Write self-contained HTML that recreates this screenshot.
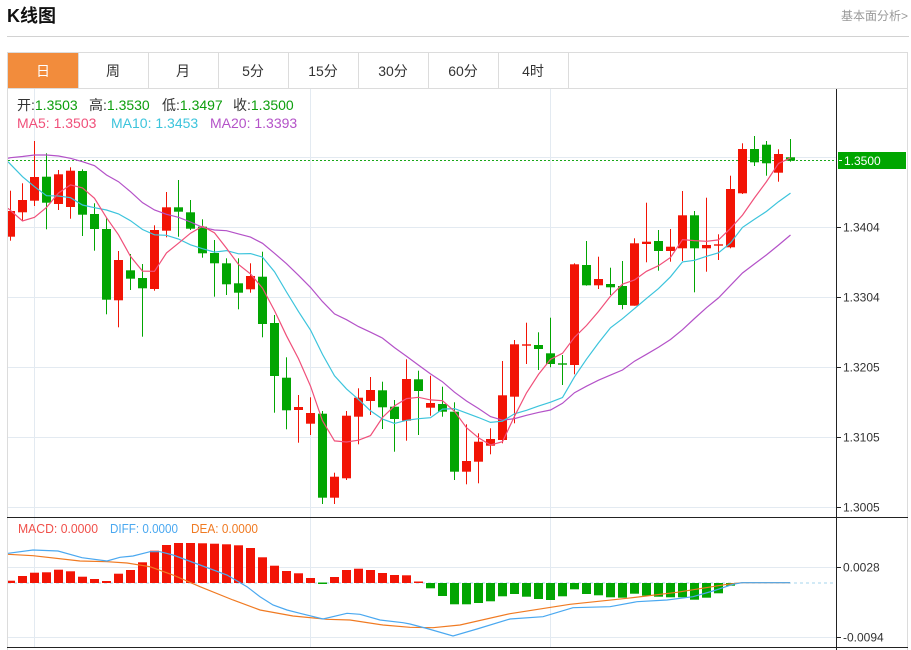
<!DOCTYPE html>
<html><head><meta charset="utf-8">
<style>
html,body{margin:0;padding:0;background:#fff;width:911px;height:650px;overflow:hidden}
svg{display:block}
text{font-family:"Liberation Sans","Noto Sans CJK SC",sans-serif}
</style></head><body>
<svg id="s" width="911" height="650" viewBox="0 0 911 650" xmlns="http://www.w3.org/2000/svg">
<defs>
<clipPath id="cm"><rect x="8" y="89" width="828" height="428"/></clipPath>
<clipPath id="cd"><rect x="8" y="518" width="828" height="129"/></clipPath>
</defs>
<rect width="911" height="650" fill="#fff"/>
<text x="7" y="22" font-size="18" font-weight="bold" fill="#111">K线图</text>
<text x="908" y="20" font-size="12" fill="#999" text-anchor="end">基本面分析&gt;</text>
<line x1="7" y1="36.5" x2="909" y2="36.5" stroke="#d2d2d2"/>
<rect x="7.5" y="52.5" width="900" height="610" fill="none" stroke="#dcdcdc"/>
<rect x="8" y="53" width="70" height="35" fill="#f28c3c"/>
<g stroke="#dcdcdc">
<line x1="78.5" y1="53" x2="78.5" y2="88"/><line x1="148.5" y1="53" x2="148.5" y2="88"/>
<line x1="218.5" y1="53" x2="218.5" y2="88"/><line x1="288.5" y1="53" x2="288.5" y2="88"/>
<line x1="358.5" y1="53" x2="358.5" y2="88"/><line x1="428.5" y1="53" x2="428.5" y2="88"/>
<line x1="498.5" y1="53" x2="498.5" y2="88"/><line x1="568.5" y1="53" x2="568.5" y2="88"/>
<line x1="8" y1="88.5" x2="908" y2="88.5"/>
</g>
<g font-size="14" text-anchor="middle" fill="#333">
<text x="43" y="76" fill="#fff">日</text><text x="113" y="76">周</text><text x="183" y="76">月</text>
<text x="253" y="76">5分</text><text x="323" y="76">15分</text><text x="393" y="76">30分</text>
<text x="463" y="76">60分</text><text x="533" y="76">4时</text>
</g>
<!-- grid -->
<g stroke="#e3eaf1" stroke-width="1">
<line x1="8" y1="157.5" x2="836" y2="157.5"/><line x1="8" y1="227.5" x2="836" y2="227.5"/>
<line x1="8" y1="297.5" x2="836" y2="297.5"/><line x1="8" y1="367.5" x2="836" y2="367.5"/>
<line x1="8" y1="437.5" x2="836" y2="437.5"/><line x1="8" y1="507.5" x2="836" y2="507.5"/>
<line x1="8" y1="567.5" x2="836" y2="567.5"/><line x1="8" y1="637.5" x2="836" y2="637.5"/>
<line x1="34.5" y1="89" x2="34.5" y2="647"/><line x1="310.5" y1="89" x2="310.5" y2="647"/>
<line x1="550.5" y1="89" x2="550.5" y2="647"/>
</g>
<!-- info text -->
<g font-size="14">
<text x="17" y="110" fill="#333">开:<tspan fill="#0c9e0c">1.3503</tspan></text>
<text x="89" y="110" fill="#333">高:<tspan fill="#0c9e0c">1.3530</tspan></text>
<text x="162" y="110" fill="#333">低:<tspan fill="#0c9e0c">1.3497</tspan></text>
<text x="233" y="110" fill="#333">收:<tspan fill="#0c9e0c">1.3500</tspan></text>
<text x="17" y="128" fill="#f0507a">MA5: 1.3503</text>
<text x="111" y="128" fill="#3cc4dc">MA10: 1.3453</text>
<text x="210" y="128" fill="#b452c8">MA20: 1.3393</text>
</g>
<line x1="8" y1="160.5" x2="836" y2="160.5" stroke="#19a819" stroke-dasharray="2,2"/>
<line x1="8" y1="583" x2="836" y2="583" stroke="#a6d6ee" stroke-dasharray="3,3"/>
<g id="main" clip-path="url(#cm)"></g>
<g id="macd" clip-path="url(#cd)"></g>
<g font-size="13">
<text x="18" y="533" fill="#f0504a" textLength="80" lengthAdjust="spacingAndGlyphs">MACD: 0.0000</text>
<text x="110" y="533" fill="#4aa8f0" textLength="68" lengthAdjust="spacingAndGlyphs">DIFF: 0.0000</text>
<text x="191" y="533" fill="#f07a22" textLength="67" lengthAdjust="spacingAndGlyphs">DEA: 0.0000</text>
</g>
<!-- axes -->
<g stroke="#222">
<line x1="836.5" y1="89" x2="836.5" y2="650"/>
<line x1="7" y1="517.5" x2="908" y2="517.5"/>
<line x1="7" y1="647.5" x2="908" y2="647.5"/>
<line x1="836" y1="227.5" x2="841" y2="227.5"/><line x1="836" y1="297.5" x2="841" y2="297.5"/>
<line x1="836" y1="367.5" x2="841" y2="367.5"/><line x1="836" y1="437.5" x2="841" y2="437.5"/>
<line x1="836" y1="507.5" x2="841" y2="507.5"/>
<line x1="836" y1="567.5" x2="841" y2="567.5"/><line x1="836" y1="637.5" x2="841" y2="637.5"/>
</g>
<g font-size="12" fill="#333">
<text x="843" y="231.7">1.3404</text><text x="843" y="301.7">1.3304</text>
<text x="843" y="371.7">1.3205</text><text x="843" y="441.7">1.3105</text>
<text x="843" y="511.7">1.3005</text>
<text x="843" y="571.7">0.0028</text><text x="843" y="641.7">-0.0094</text>
</g>
<rect x="838" y="152" width="68" height="17" fill="#00a600"/>
<line x1="839" y1="160.5" x2="842" y2="160.5" stroke="#fff"/>
<text x="844" y="165" font-size="12" fill="#fff">1.3500</text>
</svg>
<script>
(function(){
var D=[
[1,211,236.7,190.7,240.7],[1,200,212.3,183.3,221],[1,177,200.7,141,206],[0,176.7,202.7,153.3,229.3],
[1,174.3,204,170,210],[1,170.7,207,167.3,218.7],[0,171,214.7,169.3,236],[0,214,229,203.3,250.7],
[0,229,299.7,218.3,314.3],[1,260,300.3,251,327.3],[0,270.3,278.7,254,290],[0,278,288.3,264,336.7],
[1,230,289,225.3,290.7],[1,207.3,230.7,192,237.3],[0,207.3,211.7,180,236.7],[0,212.3,228.7,200,230],
[0,226.7,253.3,219.3,257.7],[0,253,263.3,240,296.7],[0,263.3,284.3,258.3,295],[0,283.3,292.7,258.3,309.3],
[1,276,289.3,263.3,292.7],[0,276.7,324,251.7,337.3],[0,323,376,315,412.7],[0,377.7,410.3,357.3,429.3],
[1,407,410,395,442.7],[1,413,423.7,397.3,435],[0,413.7,497.7,411,504],[1,476.7,497.7,472.7,504],
[1,415.7,478.3,411,480],[1,397.7,416.7,388.3,444.3],[1,390,401,377,415],[0,390.3,407.3,381.7,429],
[0,406.7,419,400,451.7],[1,379,420.7,359.3,440.7],[0,379.3,391,370.7,435],[1,403,407.7,375.7,415.7],
[0,404,411.7,386.7,416.7],[0,411.7,471.7,402.3,480],[1,461,471.7,424.3,484.3],[1,441.7,461.7,433.3,483.3],
[1,439,445.7,428.3,454.3],[1,395.3,440,361,443.3],[1,344.3,396.7,340,423.3],[1,344.3,345.7,322.7,364],
[0,345,349,332.3,370],[0,353.3,364,317.7,367.3],[0,363.3,364.7,355,385],[1,264.3,365,263.3,374.3],
[0,265,285.3,241,285.7],[1,279,285.3,256.7,289],[0,284,287.3,267.7,295],[0,286,305,261,309.3],
[1,243.3,305.7,238.3,305.7],[1,241.7,244,202.7,262.3],[0,241,251,230,270.7],[1,246.7,251,229,261.7],
[1,215.3,248.3,191,261],[0,215.3,248.3,211,292.3],[1,245,248.3,197.7,271.7],[1,244.3,245.7,234.3,260],
[1,189,247.3,175.7,248.3],[1,149,193.3,143.3,194],[0,149,162.3,136,166],[0,144.7,163.3,141,175.7],
[1,154,172.7,149.3,181.7],[0,157.3,160.7,139,161.7]];
var R="#f21405",G="#02a502";
var h="";
var c=[];
for(var i=0;i<D.length;i++){
 var d=D[i],cx=10.5+12*i,col=d[0]?R:G;
 c.push(d[0]?d[1]:d[2]);
 h+='<rect x="'+(cx-0.5)+'" y="'+d[3]+'" width="1" height="'+(d[4]-d[3])+'" fill="'+col+'"/>';
 h+='<rect x="'+(cx-4.5)+'" y="'+d[1]+'" width="9" height="'+Math.max(1,d[2]-d[1])+'" fill="'+col+'"/>';
}
function ma(n,seed,start){
 var p=[[8,start]];
 for(var i=0;i<c.length;i++){
  var v;
  if(i<n-1){v=seed[i];}else{var s=0;for(var k=i-n+1;k<=i;k++)s+=c[k];v=s/n;}
  p.push([10.5+12*i,v]);
 }
 return p.map(function(q){return q[0].toFixed(1)+','+q[1].toFixed(1)}).join(' ');
}
h+='<polyline fill="none" stroke="#b452c8" stroke-width="1.2" points="'+ma(20,[157.7,156.5,155,155,156,158.3,161.7,165.7,175,181.7,191.7,202.7,210,214.3,217.3,222,227.3,230,230.7],158.3)+'"/>';
h+='<polyline fill="none" stroke="#3cc4dc" stroke-width="1.2" points="'+ma(10,[164.3,176.7,186.7,195.7,196,197.7,205,207.7,210],161.7)+'"/>';
h+='<polyline fill="none" stroke="#f0507a" stroke-width="1.2" points="'+ma(5,[210.5,221,217.3,207.5],208.3)+'"/>';
document.getElementById('main').innerHTML=h;

var m="";
var red=[580.7,576,572.7,572.3,569.7,571.3,576.7,579,581,573.7,570,562.3,550.7,545,543,543,543.3,543.7,544.3,545.3,548,557.3,565.7,571,573.3,578,null,577,570,568.7,570,573,575,575.3,581.5];
for(var i=0;i<red.length;i++){
 var x=6+12*i;
 if(red[i]===null){m+='<rect x="'+x+'" y="582.5" width="9" height="1.5" fill="'+G+'"/>';continue;}
 m+='<rect x="'+x+'" y="'+red[i]+'" width="9" height="'+(583-red[i]).toFixed(1)+'" fill="'+R+'"/>';
}
var grn=[588.3,596,604.3,604.3,603,601.3,596.3,594,596.7,599,600,596.3,589.3,594,595.3,597.3,597.7,593.7,595.7,596.7,597.3,597.3,599.7,597.7,593.3,585.7];
for(var j=0;j<grn.length;j++){
 var x2=6+12*(35+j);
 m+='<rect x="'+x2+'" y="583" width="9" height="'+(grn[j]-583).toFixed(1)+'" fill="'+G+'"/>';
}
var diff="8,553.3 33,550 58,551 82,557.7 107,561 120,557.3 133,556 150,551.7 160,551.7 173,555 200,565 227,575 247,586.7 260,596.7 273,605 287,610 300,613.3 323,619 347,613.3 360,614.3 380,620 403,622.7 410,624 427,628.5 453,636 477,629 510,619 543,616.7 573,607.7 610,606.7 637,601.7 667,600 693,596.7 713,591 733,584.3 742,582.7 790,582.7";
var dea="8,554.3 33,555.7 80,561 107,561.7 127,563 150,566.7 173,575 200,586.7 233,600 260,610 293,616 327,619.3 350,620 383,625 410,627.3 433,627.7 460,625 510,613.7 570,604.3 627,598.3 677,592.3 727,584.3 742,582.7 790,582.7";
m+='<polyline fill="none" stroke="#f07a22" stroke-width="1.2" points="'+dea+'"/>';
m+='<polyline fill="none" stroke="#4aa8f0" stroke-width="1.2" points="'+diff+'"/>';
document.getElementById('macd').innerHTML=m;
})();
</script>
</body></html>
